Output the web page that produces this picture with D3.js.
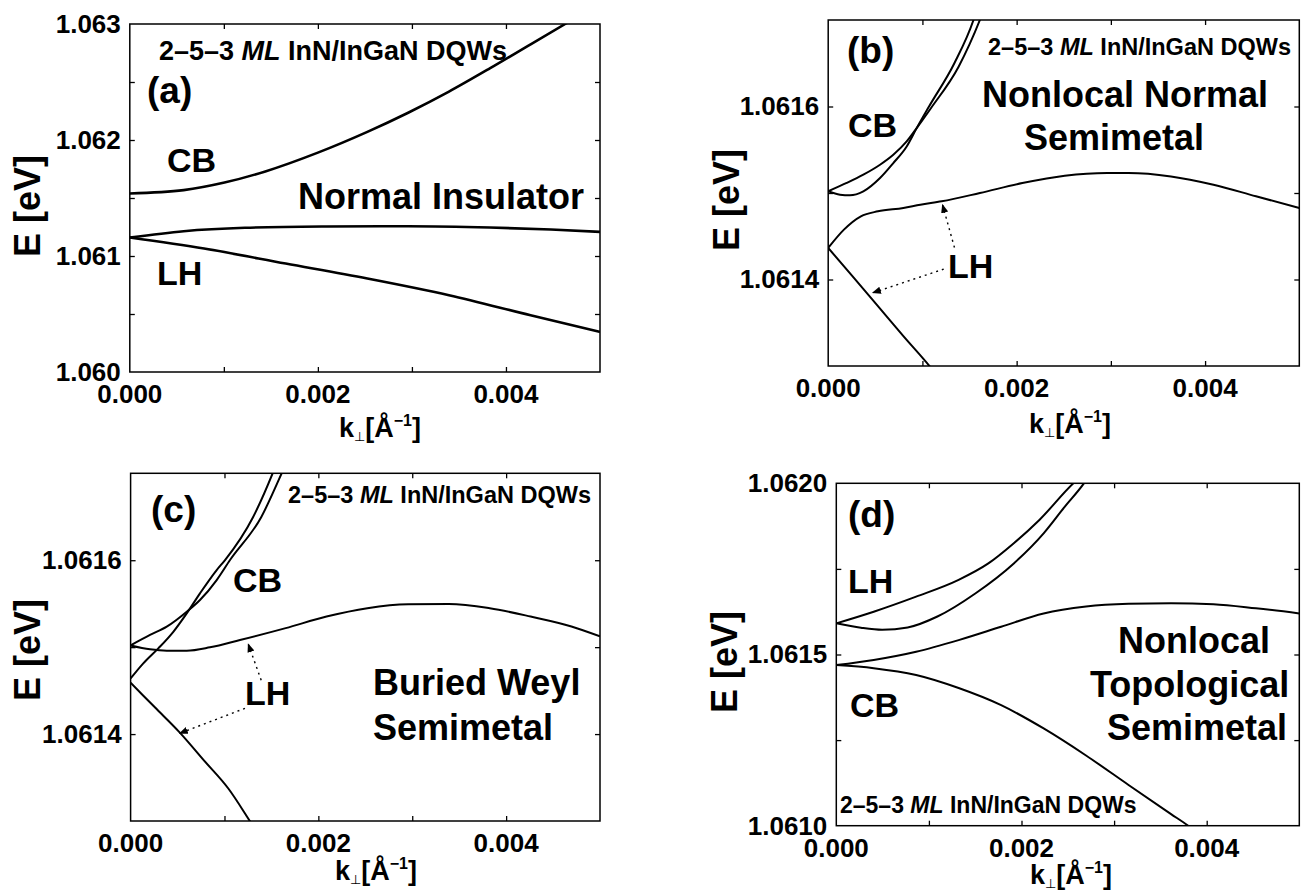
<!DOCTYPE html>
<html><head><meta charset="utf-8">
<script src="https://cdn.jsdelivr.net/npm/d3@7"></script>
<style>
body{margin:0;background:#fff;}
svg text{font-family:"Liberation Sans",Arial,Helvetica,sans-serif;font-weight:bold;fill:#000;}
</style></head><body>
<svg id="chart" width="1306" height="890"></svg>
<script>
// ---------------- data ----------------
const kMajorTicks = [0, 0.002, 0.004];
const kMinorTicks = [0.001, 0.003, 0.005];
const aYMajor = [1.060, 1.061, 1.062, 1.063];
const aYMinor = [1.0605, 1.0615, 1.0625];
const bcYMajor = [1.0614, 1.0616];
const bcYMinor = [1.0615];
const dYMajor = [1.0610, 1.0615, 1.0620];
const dYMinor = [1.06125, 1.06175];

// panel (a): Normal Insulator
const aCB = [[0,1.061539],[0.000573,1.061568],[0.001007,1.061633],[0.001441,1.061729],[0.002,1.061891],[0.002526,1.06207],[0.00296,1.062235],[0.003394,1.062417],[0.003828,1.062617],[0.004262,1.062825],[0.00463,1.063],[0.0048,1.06308]];
const aLH1 = [[0,1.061159],[0.000573,1.061214],[0.001224,1.061243],[0.002092,1.061254],[0.00296,1.061257],[0.003828,1.061246],[0.004479,1.061228],[0.005,1.061208]];
const aLH2 = [[0,1.061159],[0.00079,1.061064],[0.001658,1.060935],[0.002526,1.060806],[0.003394,1.060662],[0.004262,1.060489],[0.005,1.060345]];

// panel (b): Nonlocal Normal Semimetal
const bCB1 = [[0,1.061502],[0.000196,1.0615116],[0.000373,1.0615212],[0.00055,1.0615327],[0.000691,1.0615442],[0.000833,1.0615596],[0.000939,1.061575],[0.00109,1.061598],[0.001384,1.061646],[0.00161,1.0617],[0.00168,1.06172]];
const bCB2 = [[0,1.061502],[0.000125,1.0614981],[0.000231,1.0614973],[0.000373,1.0615019],[0.00055,1.0615173],[0.000691,1.0615346],[0.000833,1.0615538],[0.000939,1.061575],[0.00107,1.0616],[0.001339,1.06165],[0.001542,1.0617],[0.0016,1.06172]];
const bLH1 = [[0,1.0614365],[0.000167,1.0614577],[0.000347,1.0614731],[0.000528,1.0614788],[0.000798,1.0614827],[0.000978,1.0614865],[0.001204,1.0614904],[0.00161,1.0615],[0.002061,1.0615115],[0.002511,1.06152],[0.002962,1.0615231],[0.003187,1.0615231],[0.003638,1.0615192],[0.004089,1.0615096],[0.00454,1.0614962],[0.005,1.0614827]];
const bLH2 = [[0,1.0614365],[0.000257,1.0614038],[0.000528,1.0613692],[0.000798,1.0613346],[0.001069,1.0613008],[0.00112,1.061294]];
const bArrows = [[[0.00134,1.061437],[0.001213,1.0614865]],[[0.001226,1.061412],[0.000473,1.0613846]]];

// panel (c): Buried Weyl Semimetal
const cCB1 = [[0,1.061502],[0.000207,1.061514],[0.000385,1.0615235],[0.000598,1.0615407],[0.000739,1.0615542],[0.000917,1.0615772],[0.001059,1.0616002],[0.001391,1.0616495],[0.001609,1.0617],[0.00165,1.06171]];
const cCB2 = [[0,1.061464],[0.000135,1.0614814],[0.000295,1.0614986],[0.000455,1.0615177],[0.000598,1.0615389],[0.000739,1.0615619],[0.000917,1.0615887],[0.001006,1.0616002],[0.001304,1.0616495],[0.001513,1.0617],[0.00155,1.06171]];
const cLH1 = [[0,1.061502],[0.000207,1.0614975],[0.000385,1.0614959],[0.000598,1.0614959],[0.000846,1.0614998],[0.001165,1.0615082],[0.001652,1.0615219],[0.002087,1.0615352],[0.002522,1.0615448],[0.002957,1.0615493],[0.003391,1.0615497],[0.003826,1.0615448],[0.004261,1.0615352],[0.004696,1.0615238],[0.005,1.0615124]];
const cLH2 = [[0,1.061459],[0.000261,1.0614305],[0.000522,1.061402],[0.000783,1.0613695],[0.001043,1.0613371],[0.00127,1.0613],[0.0013,1.061295]];
const cArrows = [[[0.001391,1.061462],[0.001253,1.0615036]],[[0.001218,1.0614296],[0.000522,1.0614008]]];

// panel (d): Nonlocal Topological Semimetal
const dLH1 = [[0,1.061591],[0.000404,1.061625],[0.000862,1.061669],[0.001321,1.061718],[0.001642,1.061766],[0.001917,1.061825],[0.002193,1.061893],[0.00256,1.0620],[0.0026,1.06201]];
const dLH2 = [[0,1.061591],[0.000266,1.061578],[0.000495,1.061572],[0.000771,1.061579],[0.001092,1.061611],[0.001505,1.061679],[0.001917,1.061766],[0.002239,1.061854],[0.002468,1.061932],[0.002674,1.0620],[0.0027,1.06201]];
const dMid = [[0,1.061469],[0.000404,1.061484],[0.000862,1.061508],[0.001321,1.061542],[0.00178,1.061581],[0.002239,1.06162],[0.002697,1.06164],[0.003156,1.061648],[0.003615,1.06165],[0.004073,1.061647],[0.004532,1.061635],[0.005,1.06162]];
const dCB = [[0,1.061469],[0.000404,1.06146],[0.000862,1.06144],[0.001321,1.061402],[0.00178,1.061352],[0.002239,1.061284],[0.002697,1.061205],[0.003156,1.061119],[0.003615,1.061034],[0.0038,1.0610],[0.00383,1.060994]];

const titleText = ["2\u20135\u20133 ", "ML", " InN/InGaN DQWs"];

// ---------------- drawing ----------------
const svg = d3.select("#chart");
const defs = svg.append("defs");
defs.append("marker").attr("id","arr").attr("viewBox","0 0 10 10").attr("refX",9).attr("refY",5)
  .attr("markerWidth",9).attr("markerHeight",9).attr("markerUnits","userSpaceOnUse").attr("orient","auto")
  .append("path").attr("d","M0,1 L10,5 L0,9 Z").attr("fill","#000");

function stext(g, x, y, str, size, anchor) {
  return g.append("text")
    .attr("x", x).attr("y", y)
    .attr("text-anchor", anchor || "start")
    .style("font-size", size + "px")
    .text(str);
}

const panels = [
  {id:"a", box:{left:129.8,right:600,top:24,bottom:372}, yDomain:[1.060,1.063], yMajor:aYMajor, yMinor:aYMinor, yFmt:".3f",
   series:[aCB,aLH1,aLH2], sw:2.6, arrows:[],
   title:{x:159,y:60,size:27}, tag:{x:147,y:103},
   ylab:{x:27,y:206}, klab:{x:380,y:437},
   labels:[{t:"CB",x:167,y:172,s:34},{t:"Normal Insulator",x:298,y:209,s:36},{t:"LH",x:157,y:285,s:34}]},
  {id:"b", box:{left:828.2,right:1299.3,top:20,bottom:366}, yDomain:[1.0613,1.0617], yMajor:bcYMajor, yMinor:bcYMinor, yFmt:".4f",
   series:[bCB1,bCB2,bLH1,bLH2], sw:2, arrows:bArrows,
   title:{x:988,y:55,size:23.5}, tag:{x:847,y:63},
   ylab:{x:726,y:200}, klab:{x:1070,y:433},
   labels:[{t:"CB",x:848,y:137,s:34},{t:"Nonlocal Normal",x:982,y:107,s:36},{t:"Semimetal",x:1024,y:150,s:36},{t:"LH",x:948,y:278,s:34}]},
  {id:"c", box:{left:130.6,right:600,top:473.3,bottom:821}, yDomain:[1.0613,1.0617], yMajor:bcYMajor, yMinor:bcYMinor, yFmt:".4f",
   series:[cCB1,cCB2,cLH1,cLH2], sw:2, arrows:cArrows,
   title:{x:288,y:503,size:23.5}, tag:{x:151,y:522},
   ylab:{x:27,y:650}, klab:{x:376,y:880},
   labels:[{t:"CB",x:233,y:592,s:34},{t:"Buried Weyl",x:373,y:695,s:36},{t:"Semimetal",x:373,y:740,s:36},{t:"LH",x:245,y:705,s:34}]},
  {id:"d", box:{left:836.3,right:1299.3,top:483.3,bottom:825.7}, yDomain:[1.0610,1.0620], yMajor:dYMajor, yMinor:dYMinor, yFmt:".4f",
   series:[dLH1,dLH2,dMid,dCB], sw:2, arrows:[],
   title:{x:840,y:813,size:23}, tag:{x:848,y:527},
   ylab:{x:724,y:662}, klab:{x:1071,y:884},
   labels:[{t:"LH",x:848,y:593,s:34},{t:"CB",x:850,y:717,s:34},{t:"Nonlocal",x:1118,y:653,s:36},{t:"Topological",x:1090,y:697,s:36},{t:"Semimetal",x:1107,y:740,s:36}]}
];

panels.forEach(p => {
  const b = p.box;
  const g = svg.append("g").attr("class","panel-"+p.id);
  const x = d3.scaleLinear().domain([0,0.005]).range([b.left,b.right]);
  const y = d3.scaleLinear().domain(p.yDomain).range([b.bottom,b.top]);

  defs.append("clipPath").attr("id","clip-"+p.id).append("rect")
    .attr("x",b.left).attr("y",b.top).attr("width",b.right-b.left).attr("height",b.bottom-b.top);

  // inward ticks on all four sides
  const xt = kMajorTicks.concat(kMinorTicks).filter(v => v>0 && v<0.005);
  const yt = p.yMajor.concat(p.yMinor).filter(v => v>p.yDomain[0] && v<p.yDomain[1]);
  const styleAxis = s => { s.select(".domain").remove(); s.selectAll("line").attr("stroke","#000").attr("stroke-width",1.3); s.selectAll("text").remove(); };
  g.append("g").attr("transform",`translate(0,${b.bottom})`).call(d3.axisBottom(x).tickValues(xt).tickSize(-5)).call(styleAxis);
  g.append("g").attr("transform",`translate(0,${b.top})`).call(d3.axisTop(x).tickValues(xt).tickSize(-5)).call(styleAxis);
  g.append("g").attr("transform",`translate(${b.left},0)`).call(d3.axisLeft(y).tickValues(yt).tickSize(-5)).call(styleAxis);
  g.append("g").attr("transform",`translate(${b.right},0)`).call(d3.axisRight(y).tickValues(yt).tickSize(-5)).call(styleAxis);

  // frame
  g.append("rect").attr("x",b.left).attr("y",b.top).attr("width",b.right-b.left).attr("height",b.bottom-b.top)
    .attr("fill","none").attr("stroke","#000").attr("stroke-width",1.5);

  // curves
  const line = d3.line().x(d=>x(d[0])).y(d=>y(d[1])).curve(d3.curveMonotoneX);
  g.append("g").attr("clip-path",`url(#clip-${p.id})`).selectAll("path").data(p.series).join("path")
    .attr("d",line).attr("fill","none").attr("stroke","#000").attr("stroke-width",p.sw).attr("stroke-linejoin","round");

  // dotted arrows
  g.selectAll("line.arrow").data(p.arrows).join("line").attr("class","arrow")
    .attr("x1",d=>x(d[0][0])).attr("y1",d=>y(d[0][1])).attr("x2",d=>x(d[1][0])).attr("y2",d=>y(d[1][1]))
    .attr("stroke","#000").attr("stroke-width",1.4).attr("stroke-dasharray","2,4").attr("marker-end","url(#arr)");

  // tick labels
  const fy = d3.format(p.yFmt), fx = d3.format(".3f");
  g.selectAll("text.ytl").data(p.yMajor).join("text").attr("class","ytl")
    .attr("x",b.left-9).attr("y",d=>y(d)).attr("dy","0.34em")
    .attr("text-anchor","end").style("font-size","26px").text(fy);
  g.selectAll("text.xtl").data(kMajorTicks).join("text").attr("class","xtl")
    .attr("x",d=>x(d)).attr("y",b.bottom+31)
    .attr("text-anchor","middle").style("font-size","26px").text(fx);

  // axis titles
  g.append("text").attr("transform",`translate(${p.ylab.x},${p.ylab.y}) rotate(-90)`)
    .attr("text-anchor","middle").attr("dy","0.36em").style("font-size","36px").text("E [eV]");
  const kl = g.append("text").attr("x",p.klab.x).attr("y",p.klab.y)
    .attr("text-anchor","middle").style("font-size","27px");
  kl.append("tspan").text("k");
  kl.append("tspan").attr("dy",4).style("font-size","13px").style("font-weight","normal").text("\u22A5");
  kl.append("tspan").attr("dy",-4).text("[\u00C5");
  kl.append("tspan").attr("dy",-11).style("font-size","16px").text("\u22121");
  kl.append("tspan").attr("dy",11).text("]");

  // panel title
  const t = g.append("text").attr("x",p.title.x).attr("y",p.title.y)
    .style("font-size",p.title.size+"px");
  t.append("tspan").text(titleText[0]);
  t.append("tspan").style("font-style","italic").text(titleText[1]);
  t.append("tspan").text(titleText[2]);

  stext(g, p.tag.x, p.tag.y, "("+p.id+")", 37);
  p.labels.forEach(l => stext(g, l.x, l.y, l.t, l.s));
});
</script>
</body></html>
